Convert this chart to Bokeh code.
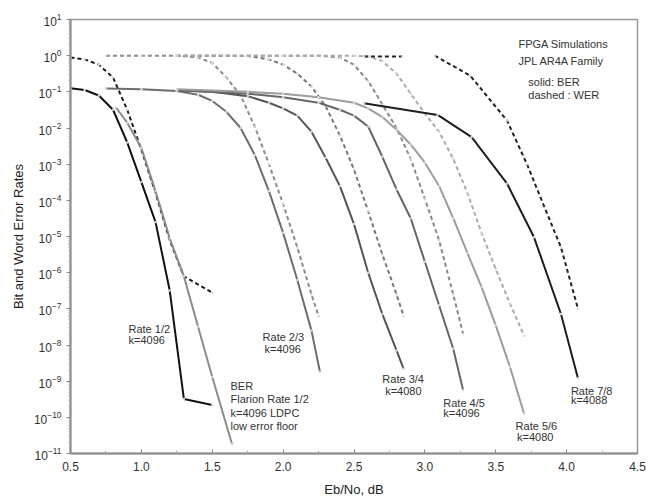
from bokeh.plotting import figure
from bokeh.models import FixedTicker, PrintfTickFormatter
from bokeh.embed import file_html
from bokeh.resources import INLINE
from bokeh.core.properties import value

NAN = float("nan")

# ---- data (Eb/No in dB, error rates) ----
r12_ber_x = [0.5, 0.6, 0.7, 0.8, 0.9, 1.0, 1.1, 1.2, 1.3, 1.5]
r12_ber_y = [1.26e-1, 1.12e-1, 7.9e-2, 3.2e-2, 4.0e-3, 3.2e-4, 2.5e-5, 3.2e-7, 3.2e-10, 2.2e-10]
r12_wer_x = [0.5, 0.6, 0.7, 0.8, 0.9, 1.0, 1.1, 1.2, 1.3, 1.5]
r12_wer_y = [8.9e-1, 7.9e-1, 5.6e-1, 2.5e-1, 3.2e-2, 2.5e-3, 1.6e-4, 7.9e-6, 7.9e-7, 2.8e-7]

flarion_x = [0.82, 0.9, 1.0, 1.1, 1.2, 1.3, 1.4, 1.5, 1.64]
flarion_y = [3.7e-2, 1.4e-2, 2.8e-3, 1.8e-4, 8.9e-6, 7.9e-7, 3.2e-8, 1.3e-9, 1.8e-11]

r23_ber_x = [0.75, 1.0, 1.25, 1.4, 1.5, 1.6, 1.7, 1.8, 1.9, 2.0, 2.1, 2.2, 2.26]
r23_ber_y = [1.23e-1, 1.17e-1, 1.05e-1, 8.3e-2, 5.6e-2, 2.8e-2, 1.0e-2, 1.8e-3, 1.8e-4, 1.26e-5, 6.3e-7, 2.5e-8, 1.8e-9]
r23_wer_x = [0.75, 1.0, 1.25, 1.4, 1.5, 1.6, 1.7, 1.8, 1.9, 2.0, 2.1, 2.2, 2.25]
r23_wer_y = [1.0, 1.0, 1.0, 0.89, 0.63, 0.25, 7.9e-2, 1.1e-2, 1.0e-3, 7.9e-5, 5.0e-6, 2.5e-7, 6.3e-8]

r34_ber_x = [1.25, 1.5, 1.75, 1.9, 2.0, 2.1, 2.2, 2.3, 2.4, 2.5, 2.6, 2.7, 2.8, 2.85]
r34_ber_y = [1.1e-1, 1.0e-1, 7.6e-2, 5.0e-2, 3.5e-2, 2.2e-2, 7.9e-3, 1.5e-3, 2.5e-4, 2.2e-5, 1.0e-6, 7.1e-8, 7.1e-9, 2.2e-9]
r34_wer_x = [1.25, 1.5, 1.75, 1.9, 2.0, 2.1, 2.2, 2.3, 2.4, 2.5, 2.6, 2.7, 2.8, 2.85]
r34_wer_y = [1.0, 1.0, 0.98, 0.79, 0.56, 0.32, 0.14, 4.0e-2, 6.3e-3, 7.1e-4, 5.0e-5, 3.2e-6, 2.5e-7, 6.3e-8]

r45_ber_x = [1.25, 1.75, 2.0, 2.25, 2.4, 2.5, 2.6, 2.7, 2.8, 2.9, 3.0, 3.1, 3.2, 3.27]
r45_ber_y = [1.1e-1, 8.9e-2, 7.1e-2, 5.0e-2, 3.2e-2, 2.2e-2, 1.1e-2, 1.6e-3, 2.0e-4, 3.2e-5, 2.0e-6, 1.26e-7, 7.9e-9, 5.6e-10]
r45_wer_x = [1.25, 1.75, 2.25, 2.4, 2.5, 2.6, 2.7, 2.8, 2.9, 3.0, 3.1, 3.2, 3.27]
r45_wer_y = [1.0, 1.0, 1.0, 0.89, 0.56, 0.2, 4.5e-2, 1.0e-2, 1.4e-3, 1.1e-4, 7.9e-6, 2.5e-7, 2.0e-8]

r56_ber_x = [1.25, 1.75, 2.0, 2.25, 2.5, 2.6, 2.7, 2.8, 2.9, 3.0, 3.1, 3.2, 3.3, 3.4, 3.5, 3.6, 3.7]
r56_ber_y = [1.17e-1, 1.0e-1, 8.9e-2, 7.1e-2, 5.0e-2, 3.5e-2, 2.0e-2, 8.9e-3, 3.5e-3, 1.1e-3, 2.5e-4, 3.2e-5, 3.5e-6, 4.0e-7, 3.5e-8, 2.5e-9, 1.26e-10]
r56_wer_x = [1.25, 2.0, 2.5, 2.6, 2.7, 2.8, 2.9, 3.0, 3.1, 3.2, 3.3, 3.4, 3.5, 3.6, 3.7]
r56_wer_y = [1.0, 1.0, 1.0, 0.95, 0.71, 0.32, 8.9e-2, 2.5e-2, 7.9e-3, 1.4e-3, 1.6e-4, 1.26e-5, 1.26e-6, 1.4e-7, 1.8e-8]

r78_ber_x = [2.57, 3.09, 3.33, 3.58, 3.77, 3.96, 4.08]
r78_ber_y = [4.8e-2, 2.3e-2, 5.6e-3, 2.9e-4, 9.5e-6, 7.2e-8, 1.2e-9]
r78_wer_x = [2.57, 2.84, NAN, 3.07, 3.32, 3.58, 3.72, 3.96, 4.08]
r78_wer_y = [0.95, 0.95, NAN, 1.0, 0.28, 1.6e-2, 1.0e-3, 5.0e-6, 1.0e-7]

x_ticks = [0.5, 1.0, 1.5, 2.0, 2.5, 3.0, 3.5, 4.0, 4.5]
x_minor = [0.75, 1.25, 1.75, 2.25, 2.75, 3.25, 3.75, 4.25]
y_ticks = [1e-11, 1e-10, 1e-9, 1e-8, 1e-7, 1e-6, 1e-5, 1e-4, 1e-3, 1e-2, 1e-1, 1e0, 1e1]

FONT = "Liberation Sans"

p = figure(width=652, height=501, x_range=(0.5, 4.5), y_range=(1e-11, 10),
           y_axis_type="log", output_backend="svg", toolbar_location=None,
           min_border_left=70, min_border_right=15, min_border_top=19,
           min_border_bottom=48)
p.grid.visible = False
p.background_fill_color = "white"
p.outline_line_color = "#9a9a9a"
p.outline_line_width = 1.5

p.xaxis.ticker = FixedTicker(ticks=x_ticks, minor_ticks=x_minor)
p.xaxis.formatter = PrintfTickFormatter(format="%.1f")
y_minor = [m * t for t in y_ticks[:-1] for m in range(2, 10)]
p.yaxis.ticker = FixedTicker(ticks=y_ticks, minor_ticks=y_minor)

for ax in (p.xaxis[0], p.yaxis[0]):
    ax.axis_line_color = "#8a8a8a"
    ax.axis_line_width = 2
    ax.major_tick_line_color = "#8a8a8a"
    ax.minor_tick_line_color = "#aaaaaa"
    ax.major_label_text_font = FONT
    ax.major_label_text_font_size = "12px"
    ax.major_label_text_color = "#333333"
    ax.axis_label_text_font = FONT
    ax.axis_label_text_font_size = "13px"
    ax.axis_label_text_font_style = "normal"
    ax.axis_label_text_color = "#222222"

p.xaxis.major_tick_in = 4
p.xaxis.major_tick_out = 0
p.xaxis.minor_tick_in = 3
p.xaxis.minor_tick_out = 0
p.xaxis.major_label_standoff = 8
p.xaxis.axis_label = "Eb/No, dB"
p.xaxis.axis_label_standoff = 8

p.yaxis.major_tick_in = 0
p.yaxis.major_tick_out = 4
p.yaxis.minor_tick_in = 0
p.yaxis.minor_tick_out = 2
p.yaxis.major_label_standoff = 5
p.yaxis.axis_label = "Bit and Word Error Rates"
p.yaxis.axis_label_standoff = 5

curves = [
    (r12_wer_x, r12_wer_y, "#1a1a1a", "dashed"),
    (r12_ber_x, r12_ber_y, "#111111", "solid"),
    (flarion_x, flarion_y, "#8c8c8c", "solid"),
    (r23_wer_x, r23_wer_y, "#8a8a8a", "dashed"),
    (r23_ber_x, r23_ber_y, "#6e6e6e", "solid"),
    (r34_wer_x, r34_wer_y, "#777777", "dashed"),
    (r34_ber_x, r34_ber_y, "#555555", "solid"),
    (r45_wer_x, r45_wer_y, "#888888", "dashed"),
    (r45_ber_x, r45_ber_y, "#666666", "solid"),
    (r56_wer_x, r56_wer_y, "#aaaaaa", "dashed"),
    (r56_ber_x, r56_ber_y, "#9c9c9c", "solid"),
    (r78_wer_x, r78_wer_y, "#222222", "dashed"),
    (r78_ber_x, r78_ber_y, "#1e1e1e", "solid"),
]
for xs, ys, col, style in curves:
    if style == "dashed":
        p.line(xs, ys, line_color=col, line_width=2, line_dash="4 3")
    else:
        p.line(xs, ys, line_color=col, line_width=2)
    px = [a for a, b in zip(xs, ys) if a == a]
    py = [b for a, b in zip(xs, ys) if a == a]
    p.scatter(px, py, size=2.5, fill_color="#d8d8d8", line_color=None)

notes_text = ["FPGA Simulations", "JPL AR4A Family", "solid: BER", "dashed : WER",
              "Rate 1/2", "k=4096", "Rate 2/3", "k=4096",
              "BER", "Flarion Rate 1/2", "k=4096 LDPC", "low error floor",
              "Rate 3/4", "k=4080", "Rate 4/5", "k=4096",
              "Rate 5/6", "k=4080", "Rate 7/8", "k=4088"]
notes_x = [3.66, 3.66, 3.73, 3.73,
           0.909, 0.909, 1.855, 1.869,
           1.629, 1.629, 1.629, 1.629,
           2.70, 2.72, 3.13, 3.13,
           3.64, 3.65, 4.03, 4.03]
notes_logy = [0.31, -0.16, -0.74, -1.10,
              -7.57, -7.85, -7.79, -8.10,
              -9.12, -9.48, -9.87, -10.25,
              -8.93, -9.26, -9.59, -9.87,
              -10.25, -10.53, -9.26, -9.53]
notes_y = [10 ** v for v in notes_logy]
p.text(notes_x, notes_y, text=notes_text, text_font=value(FONT), text_font_size="11px",
       text_align="left", text_baseline="middle", text_color="#333333")

open("out.html", "w").write(file_html(p, INLINE))
